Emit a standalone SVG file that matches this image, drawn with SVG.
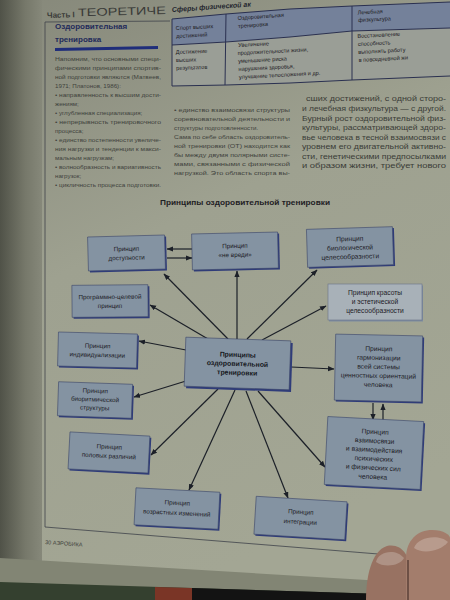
<svg xmlns="http://www.w3.org/2000/svg" width="450" height="600" viewBox="0 0 450 600">
<defs>
<linearGradient id="pg" x1="0" y1="0" x2="0.35" y2="1">
<stop offset="0" stop-color="#86887a"/>
<stop offset="0.45" stop-color="#9ea190"/>
<stop offset="1" stop-color="#a3a694"/>
</linearGradient>
<linearGradient id="lm" x1="0" y1="0" x2="1" y2="0">
<stop offset="0" stop-color="#505248"/>
<stop offset="0.6" stop-color="#76786a"/>
<stop offset="1" stop-color="#86887a"/>
</linearGradient>
<marker id="ah" markerUnits="userSpaceOnUse" markerWidth="7" markerHeight="6" refX="6" refY="2.6" orient="auto">
<path d="M0,0 L6.5,2.6 L0,5.2 z" fill="#1c2028"/>
</marker>
<style>
.t{font-family:"Liberation Sans","DejaVu Sans",sans-serif;fill:#40423c;font-size:6.2px}
.tr{font-family:"Liberation Sans","DejaVu Sans",sans-serif;fill:#3a3c37;font-size:6.8px}
.tb{font-family:"Liberation Sans","DejaVu Sans",sans-serif;fill:#1e2024;font-size:5.6px}
.bx{fill:#8493a2;stroke:#3a4468;stroke-width:0.6}
.bxl{fill:#a8b1b8;stroke:#6a7388;stroke-width:0.6}
.sh{fill:#2f3c7a}
.bt{font-family:"Liberation Sans","DejaVu Sans",sans-serif;fill:#1d2026;font-size:6.3px;text-anchor:middle}
.bt2{font-family:"Liberation Sans","DejaVu Sans",sans-serif;fill:#1d2026;font-size:6.7px;text-anchor:middle}
.btc{font-family:"Liberation Sans","DejaVu Sans",sans-serif;fill:#15171c;font-size:6.9px;font-weight:bold;text-anchor:middle}
.cn{stroke:#1c2028;stroke-width:1.2;fill:none;marker-end:url(#ah)}
.fr{stroke:#3f424a;stroke-width:0.8;fill:none}
</style>
</defs>

<!-- page -->
<rect x="0" y="0" width="450" height="600" fill="url(#pg)"/>
<rect x="0" y="0" width="42" height="600" fill="url(#lm)"/>

<!-- header -->
<g transform="rotate(-1.5 47 17)">
<text x="47" y="18" font-family="Liberation Sans, DejaVu Sans, sans-serif" font-size="8" font-weight="bold" fill="#3a3b38">Часть I</text>
<text x="78" y="17" textLength="88" lengthAdjust="spacingAndGlyphs" font-family="Liberation Sans, DejaVu Sans, sans-serif" font-size="11" fill="#3a3b38">ТЕОРЕТИЧЕ</text>
</g>

<!-- frame lines -->
<path class="fr" d="M45,22 L45,527 L440,559"/>
<path class="fr" d="M45,22 L170,21" stroke="#b5b8aa"/>

<!-- sidebar -->
<g id="sidebar">
<text x="55" y="29" font-family="Liberation Sans, DejaVu Sans, sans-serif" font-size="8" font-weight="bold" fill="#222a5a">Оздоровительная</text>
<text x="55" y="42" font-family="Liberation Sans, DejaVu Sans, sans-serif" font-size="8" font-weight="bold" fill="#222a5a">тренировка</text>
<path d="M55,49.5 L158,47.5" stroke="#1f2d7a" stroke-width="3"/>
<text class="t" x="55" y="61" textLength="106" lengthAdjust="spacingAndGlyphs">Напомним, что основными специ-</text>
<text class="t" x="55" y="70" textLength="106" lengthAdjust="spacingAndGlyphs">фическими принципами спортив-</text>
<text class="t" x="55" y="79" textLength="106" lengthAdjust="spacingAndGlyphs">ной подготовки являются (Матвеев,</text>
<text class="t" x="55" y="88">1971; Платонов, 1986):</text>
<text class="t" x="55" y="97" textLength="106" lengthAdjust="spacingAndGlyphs">• направленность к высшим дости-</text>
<text class="t" x="55" y="106">жениям;</text>
<text class="t" x="55" y="115">• углубленная специализация;</text>
<text class="t" x="55" y="124" textLength="106" lengthAdjust="spacingAndGlyphs">• непрерывность тренировочного</text>
<text class="t" x="55" y="133">процесса;</text>
<text class="t" x="55" y="142" textLength="106" lengthAdjust="spacingAndGlyphs">• единство постепенности увеличе-</text>
<text class="t" x="55" y="151" textLength="106" lengthAdjust="spacingAndGlyphs">ния нагрузки и тенденции к макси-</text>
<text class="t" x="55" y="160">мальным нагрузкам;</text>
<text class="t" x="55" y="169" textLength="106" lengthAdjust="spacingAndGlyphs">• волнообразность и вариативность</text>
<text class="t" x="55" y="178">нагрузок;</text>
<text class="t" x="55" y="187" textLength="106" lengthAdjust="spacingAndGlyphs">• цикличность процесса подготовки.</text>
</g>

<!-- table -->
<g id="table">
<text transform="rotate(-4 172 11)" x="172" y="12" font-family="Liberation Sans, DejaVu Sans, sans-serif" font-size="7" font-weight="bold" font-style="italic" fill="#23252e">Сферы физической ак</text>
<polygon points="172,19 226,14 290,9 352,6 450,2 450,28 352,31 290,37 226,42 172,45" fill="#74819a"/>
<polygon points="172,45 226,42 290,37 352,31 450,28 450,76 352,80 290,83 226,85 172,86" fill="#9a9e96"/>
<polyline points="172,19 226,14 290,9 352,6 450,2" fill="none" stroke="#2a3050" stroke-width="1"/>
<polyline points="172,45 226,42 290,37 352,31 450,28" fill="none" stroke="#2a3050" stroke-width="1"/>
<polyline points="172,86 226,85 290,83 352,80 450,76" fill="none" stroke="#2a3050" stroke-width="1"/>
<line x1="172" y1="19" x2="172" y2="86" stroke="#2a3050" stroke-width="1"/>
<line x1="226" y1="14" x2="225" y2="85" stroke="#2a3050" stroke-width="1"/>
<line x1="352" y1="6" x2="352" y2="80" stroke="#2a3050" stroke-width="1"/>
<g transform="rotate(-3 176 33)">
<text class="tb" x="176" y="30">Спорт высших</text>
<text class="tb" x="176" y="38">достижений</text>
</g>
<g transform="rotate(-4 238 24)">
<text class="tb" x="238" y="20">Оздоровительная</text>
<text class="tb" x="238" y="28">тренировка</text>
</g>
<g transform="rotate(-3 358 18)">
<text class="tb" x="358" y="14.5">Лечебная</text>
<text class="tb" x="358" y="22">физкультура</text>
</g>
<g transform="rotate(-2 176 60)">
<text class="tb" x="176" y="54">Достижение</text>
<text class="tb" x="176" y="62">высших</text>
<text class="tb" x="176" y="70">результатов</text>
</g>
<g transform="rotate(-3 238 60)">
<text class="tb" x="239" y="47">Увеличение</text>
<text class="tb" x="238" y="55">продолжительности жизни,</text>
<text class="tb" x="238" y="63">уменьшение риска</text>
<text class="tb" x="238" y="71">нарушения здоровья,</text>
<text class="tb" x="238" y="79">улучшение телосложения и др.</text>
</g>
<g transform="rotate(-3 358 48)">
<text class="tb" x="358" y="38">Восстановление</text>
<text class="tb" x="358" y="46">способность</text>
<text class="tb" x="358" y="54">выполнять работу</text>
<text class="tb" x="358" y="62">в повседневной жи</text>
</g>
</g>

<!-- middle column -->
<g id="col2">
<text class="t" x="174" y="112" textLength="116" lengthAdjust="spacingAndGlyphs">• единство взаимосвязи структуры</text>
<text class="t" x="174" y="121" textLength="116" lengthAdjust="spacingAndGlyphs">соревновательной деятельности и</text>
<text class="t" x="174" y="130">структуры подготовленности.</text>
<text class="t" x="174" y="139" textLength="116" lengthAdjust="spacingAndGlyphs">Сама по себе область оздоровитель-</text>
<text class="t" x="174" y="148" textLength="116" lengthAdjust="spacingAndGlyphs">ной тренировки (ОТ) находится как</text>
<text class="t" x="174" y="157" textLength="116" lengthAdjust="spacingAndGlyphs">бы между двумя полярными систе-</text>
<text class="t" x="174" y="166" textLength="116" lengthAdjust="spacingAndGlyphs">мами, связанными с физической</text>
<text class="t" x="174" y="175" textLength="116" lengthAdjust="spacingAndGlyphs">нагрузкой. Это область спорта вы-</text>
</g>

<!-- right column -->
<g id="col3">
<text class="tr" x="306" y="101" textLength="140" lengthAdjust="spacingAndGlyphs">сших достижений, с одной сторо-</text>
<text class="tr" x="302" y="111" textLength="144" lengthAdjust="spacingAndGlyphs">и лечебная физкультура — с другой.</text>
<text class="tr" x="302" y="120.5" textLength="144" lengthAdjust="spacingAndGlyphs">Бурный рост оздоровительной физ-</text>
<text class="tr" x="302" y="130" textLength="144" lengthAdjust="spacingAndGlyphs">культуры, рассматривающей здоро-</text>
<text class="tr" x="302" y="139.5" textLength="144" lengthAdjust="spacingAndGlyphs">вье человека в тесной взаимосвязи с</text>
<text class="tr" x="302" y="149" textLength="144" lengthAdjust="spacingAndGlyphs">уровнем его двигательной активно-</text>
<text class="tr" x="302" y="158.5" textLength="144" lengthAdjust="spacingAndGlyphs">сти, генетическими предпосылками</text>
<text class="tr" x="302" y="168" textLength="144" lengthAdjust="spacingAndGlyphs">и образом жизни, требует нового</text>
</g>

<!-- diagram title -->
<text x="160" y="205" textLength="170" lengthAdjust="spacingAndGlyphs" font-family="Liberation Sans, DejaVu Sans, sans-serif" font-size="7.2" font-weight="bold" fill="#1e2024">Принципы оздоровительной тренировки</text>

<!-- connectors -->
<g id="connectors">
<line class="cn" x1="228" y1="339" x2="164" y2="274"/>
<line class="cn" x1="237" y1="339" x2="237" y2="271"/>
<line class="cn" x1="247" y1="339" x2="317" y2="270"/>
<line class="cn" x1="262" y1="340" x2="326" y2="306" stroke="#3a3f48"/>
<line class="cn" x1="208" y1="339" x2="150" y2="305"/>
<line class="cn" x1="186" y1="350" x2="139" y2="341"/>
<line class="cn" x1="186" y1="381" x2="134" y2="397"/>
<line class="cn" x1="291" y1="367" x2="334" y2="369"/>
<line class="cn" x1="218" y1="389" x2="151" y2="455"/>
<line class="cn" x1="235" y1="390" x2="189" y2="490"/>
<line class="cn" x1="246" y1="391" x2="288" y2="498"/>
<line class="cn" x1="258" y1="391" x2="325" y2="467"/>
<line class="cn" x1="192" y1="249" x2="167" y2="249"/>
<line class="cn" x1="167" y1="258" x2="192" y2="258"/>
<line class="cn" x1="373" y1="403" x2="373" y2="420"/>
<line class="cn" x1="383" y1="421" x2="383" y2="404"/>
</g>

<!-- nodes -->
<g id="n-dostupnost" transform="rotate(-1.5 126 253)">
<rect class="sh" x="89.5" y="237.5" width="77" height="34"/>
<rect class="bx" x="88" y="236" width="77" height="34"/>
<text class="bt" x="126.5" y="251">Принцип</text>
<text class="bt" x="126.5" y="260">доступности</text>
</g>
<g id="n-nevredi" transform="rotate(-1.3 235 251)">
<rect class="sh" x="193.5" y="234.5" width="86" height="36"/>
<rect class="bx" x="192" y="233" width="86" height="36"/>
<text class="bt" x="235" y="248">Принцип</text>
<text class="bt" x="235" y="257">«не вреди»</text>
</g>
<g id="n-biolog" transform="rotate(-1.8 350 247)">
<rect class="sh" x="308.5" y="229.5" width="86" height="38"/>
<rect class="bx" x="307" y="228" width="86" height="38"/>
<text class="bt2" x="350" y="241">Принцип</text>
<text class="bt2" x="350" y="250">биологической</text>
<text class="bt2" x="350" y="259">целесообразности</text>
</g>
<g id="n-program" transform="rotate(-0.5 110 301)">
<rect class="sh" x="73.5" y="286.5" width="76" height="32"/>
<rect class="bx" x="72" y="285" width="76" height="32"/>
<text class="bt" x="110" y="299">Программно-целевой</text>
<text class="bt" x="110" y="308">принцип</text>
</g>
<g id="n-krasota">
<rect x="329" y="285.5" width="94" height="36" fill="#7d8ba0"/>
<rect class="bxl" x="328" y="284" width="94" height="36"/>
<text class="bt2" x="375" y="295">Принцип красоты</text>
<text class="bt2" x="375" y="304">и эстетической</text>
<text class="bt2" x="375" y="313">целесообразности</text>
</g>
<g id="n-individ" transform="rotate(1.5 97 350)">
<rect class="sh" x="59.5" y="334.5" width="79" height="34"/>
<rect class="bx" x="58" y="333" width="79" height="34"/>
<text class="bt" x="97.5" y="348">Принцип</text>
<text class="bt" x="97.5" y="357">индивидуализации</text>
</g>
<g id="n-center" transform="rotate(2 237 363)">
<rect class="sh" x="187" y="341" width="105" height="49"/>
<rect class="bx" x="185" y="339" width="105" height="49"/>
<text class="btc" x="237.5" y="357">Принципы</text>
<text class="btc" x="237.5" y="366">оздоровительной</text>
<text class="btc" x="237.5" y="375">тренировки</text>
</g>
<g id="n-garmon" transform="rotate(1.2 378 368)">
<rect class="sh" x="336.5" y="336.5" width="87" height="66"/>
<rect class="bx" x="335" y="335" width="87" height="66"/>
<text class="bt2" x="378.5" y="351">Принцип</text>
<text class="bt2" x="378.5" y="360">гармонизации</text>
<text class="bt2" x="378.5" y="369">всей системы</text>
<text class="bt2" x="378.5" y="378">ценностных ориентаций</text>
<text class="bt2" x="378.5" y="387">человека</text>
</g>
<g id="n-biorit" transform="rotate(2 95 400)">
<rect class="sh" x="59.5" y="384.5" width="74" height="34"/>
<rect class="bx" x="58" y="383" width="74" height="34"/>
<text class="bt" x="95" y="393">Принцип</text>
<text class="bt" x="95" y="401.5">биоритмической</text>
<text class="bt" x="95" y="410">структуры</text>
</g>
<g id="n-polov" transform="rotate(3 109 452)">
<rect class="sh" x="70.5" y="435.5" width="80" height="37"/>
<rect class="bx" x="69" y="434" width="80" height="37"/>
<text class="bt" x="109" y="449">Принцип</text>
<text class="bt" x="109" y="458">половых различий</text>
</g>
<g id="n-vozrast" transform="rotate(3 177 508)">
<rect class="sh" x="136.5" y="491.5" width="84" height="37"/>
<rect class="bx" x="135" y="490" width="84" height="37"/>
<text class="bt" x="177" y="505">Принцип</text>
<text class="bt" x="177" y="515">возрастных изменений</text>
</g>
<g id="n-integr" transform="rotate(3.5 300 518)">
<rect class="sh" x="256.5" y="500.5" width="91" height="38"/>
<rect class="bx" x="255" y="499" width="91" height="38"/>
<text class="bt" x="300.5" y="514">Принцип</text>
<text class="bt" x="300.5" y="524">интеграции</text>
</g>
<g id="n-vzaimo" transform="rotate(3 374 453)">
<rect class="sh" x="327.5" y="420.5" width="96" height="68"/>
<rect class="bx" x="326" y="419" width="96" height="68"/>
<text class="bt2" x="374" y="434">Принцип</text>
<text class="bt2" x="374" y="443">взаимосвязи</text>
<text class="bt2" x="374" y="452">и взаимодействия</text>
<text class="bt2" x="374" y="461">психических</text>
<text class="bt2" x="374" y="470">и физических сил</text>
<text class="bt2" x="374" y="479">человека</text>
</g>

<!-- footer -->
<text transform="rotate(4 45 544)" x="45" y="544" font-family="Liberation Sans, DejaVu Sans, sans-serif" font-size="5.5" fill="#3d3f3a">30  АЭРОБИКА</text>

<!-- page edge and surface -->
<polygon points="0,558 450,585 450,600 0,600" fill="#828574"/>
<polygon points="0,582 450,596 450,600 0,600" fill="#34402f"/>
<polygon points="155,587 192,588 192,600 155,600" fill="#7a3526"/>
<polygon points="192,588 450,596 450,600 192,600" fill="#131313"/>

<!-- fingers -->
<path d="M366,600 C366,578 371,551 387,546 C401,543 411,555 411,576 L411,600 Z" fill="#987262"/>
<path d="M376,562 C378,551 396,548 404,558 C400,566 384,568 376,562 Z" fill="#ae9285"/>
<path d="M406,600 L406,558 C406,540 418,530 432,530 C444,530 450,535 450,538 L450,600 Z" fill="#a37d6c"/>
<path d="M414,548 C418,536 440,534 448,542 C440,552 422,554 414,548 Z" fill="#b89b8d"/>
<path d="M408,560 L408,600" stroke="#6e5045" stroke-width="2"/>
</svg>
